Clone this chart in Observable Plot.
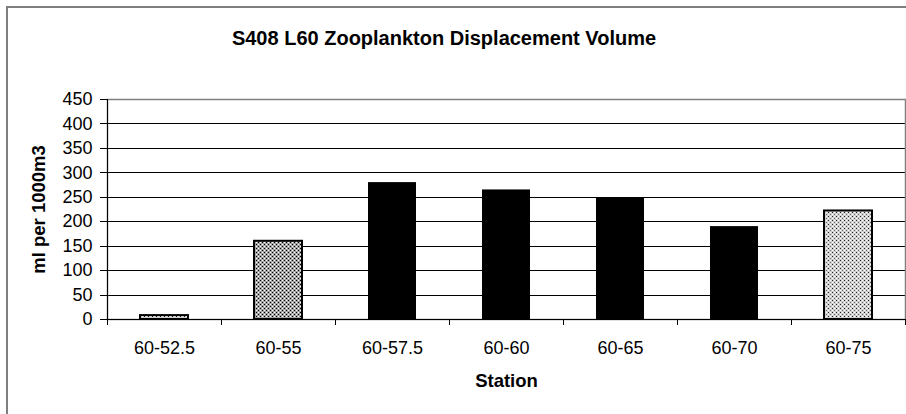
<!DOCTYPE html>
<html>
<head>
<meta charset="utf-8">
<script src="https://cdn.jsdelivr.net/npm/d3@7"></script>
<script src="https://cdn.jsdelivr.net/npm/@observablehq/plot@0.6"></script>
<style>
  html, body { margin: 0; padding: 0; background: #fff; overflow: hidden; width: 906px; height: 414px; }
  #wrap { position: relative; width: 906px; height: 414px; overflow: hidden; }
  #border { position: absolute; left: 6px; top: 6px; width: 1200px; height: 1200px; box-sizing: border-box;
            border-left: 2px solid #7f7f7f; border-top: 2px solid #7f7f7f; pointer-events: none; }
  #title { position: absolute; left: 0; top: 27px; width: 888px; text-align: center; line-height: 20px;
           font: bold 20px "Liberation Sans", Arial, sans-serif; color: #000; }
  #chart { position: absolute; left: 0; top: 0; }
</style>
</head>
<body>
<div id="wrap">
  <div id="chart"></div>
  <div id="border"></div>
  <div id="title">S408 L60 Zooplankton Displacement Volume</div>
</div>
<script>
// ---- data ----
const stations = ["60-52.5", "60-55", "60-57.5", "60-60", "60-65", "60-70", "60-75"];
const volumes  = [8, 160, 280, 265, 248, 190, 222];
const barKind  = ["light", "dark", "solid", "solid", "solid", "solid", "light"];
const yTicks   = [0, 50, 100, 150, 200, 250, 300, 350, 400, 450];
const xLabel = "Station";
const yLabel = "ml per 1000m3";

const rows = stations.map((s, i) => ({station: s, volume: volumes[i], kind: barKind[i]}));

// ---- layout ----
const W = 906, H = 414;
const mL = 107, mR = 1, mT = 99, mB = 95;
const step = (W - mL - mR) / stations.length;

const defs = () => {
  const ns = "http://www.w3.org/2000/svg";
  const g = document.createElementNS(ns, "g");
  g.innerHTML = `
    <defs>
      <pattern id="stipDark" width="4" height="4" patternUnits="userSpaceOnUse">
        <rect width="4" height="4" fill="#a4a4a4"/>
        <rect x="0" y="0" width="1" height="1" fill="#000"/>
        <rect x="2" y="2" width="1" height="1" fill="#000"/>
        <rect x="2" y="0" width="1" height="1" fill="#fff"/>
        <rect x="0" y="2" width="1" height="1" fill="#fff"/>
      </pattern>
      <pattern id="stipLight" width="4" height="4" patternUnits="userSpaceOnUse">
        <rect width="4" height="4" fill="#d0d0d0"/>
        <rect x="0" y="0" width="1" height="1" fill="#222"/>
        <rect x="2" y="2" width="1" height="1" fill="#666"/>
        <rect x="2" y="0" width="1" height="1" fill="#fff"/>
        <rect x="0" y="2" width="1" height="1" fill="#fff"/>
      </pattern>
    </defs>`;
  return g;
};

const chart = Plot.plot({
  width: W,
  height: H,
  marginLeft: mL,
  marginRight: mR,
  marginTop: mT,
  marginBottom: mB,
  style: { fontFamily: '"Liberation Sans", Arial, sans-serif', fontSize: "18px", color: "#000", background: "transparent", overflow: "visible" },
  x: { type: "band", domain: stations, paddingInner: 0.58, paddingOuter: 0.29 },
  y: { domain: [0, 450] },
  marks: [
    defs,
    Plot.ruleY(yTicks.filter(t => t > 0 && t < 450), { y: d => d, stroke: "#000", strokeWidth: 1, shapeRendering: "crispEdges" }),
    Plot.frame({ stroke: "#808080", strokeWidth: 1.5 }),
    Plot.barY(rows.filter(d => d.kind === "solid"), { x: "station", y: "volume", fill: "#000" }),
    Plot.barY(rows.filter(d => d.kind === "dark"), { x: "station", y: "volume", fill: "url(#stipDark)", stroke: "#000", strokeWidth: 2 }),
    Plot.barY(rows.filter(d => d.kind === "light"), { x: "station", y: "volume", fill: "url(#stipLight)", stroke: "#000", strokeWidth: 2 }),
    // axis lines
    Plot.ruleY([0], { y: d => d, stroke: "#000", strokeWidth: 1, shapeRendering: "crispEdges" }),
    Plot.ruleX([stations[0]], { x: d => d, dx: -step / 2, stroke: "#000", strokeWidth: 1, shapeRendering: "crispEdges" }),
    // category boundary ticks
    Plot.ruleX(stations, { x: d => d, dx: -step / 2, y1: 0, y2: 0, insetBottom: -6, stroke: "#000", shapeRendering: "crispEdges" }),
    Plot.ruleX([stations[stations.length - 1]], { x: d => d, dx: step / 2, y1: 0, y2: 0, insetBottom: -6, stroke: "#000", shapeRendering: "crispEdges" }),
    Plot.axisY({ ticks: yTicks, tickSize: 7, tickPadding: 8, tickFormat: d => String(d), label: null, shapeRendering: "crispEdges" }),
    Plot.axisX({ tickSize: 0, tickPadding: 22, label: null }),
    Plot.text([xLabel], { text: d => d, frameAnchor: "bottom", dy: 62, lineAnchor: "middle", textAnchor: "middle", fontWeight: "bold", fontSize: 18.5 }),
    Plot.text([yLabel], { text: d => d, frameAnchor: "left", dx: -68, rotate: -90, lineAnchor: "middle", textAnchor: "middle", fontWeight: "bold", fontSize: 18.5 })
  ]
});
document.getElementById("chart").appendChild(chart);
</script>
</body>
</html>
